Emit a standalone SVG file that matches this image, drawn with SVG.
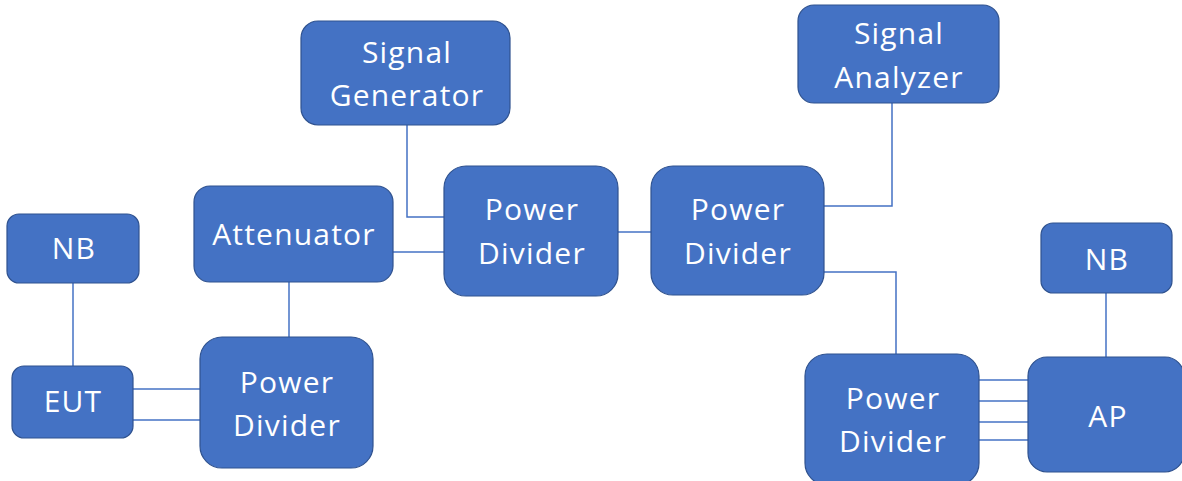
<svg xmlns="http://www.w3.org/2000/svg" width="1182" height="481" viewBox="0 0 1182 481">
<style>
.box{fill:#4472C4;stroke:#2F528F;stroke-width:1.2}
.lbl{fill:#FFFFFF;font-family:"Open Sans","Noto Sans","DejaVu Sans",sans-serif;font-size:30px;text-anchor:middle;letter-spacing:1.2px}
.wire{fill:none;stroke:#4472C4;stroke-width:1.5}
</style>
<rect width="1182" height="481" fill="#FFFFFF"/>
<g id="connectors">
<polyline class="wire" points="407,125 407,217 444,217"/>
<line class="wire" x1="393" y1="252" x2="444" y2="252"/>
<line class="wire" x1="618" y1="232" x2="651" y2="232"/>
<polyline class="wire" points="892,103 892,206 824,206"/>
<polyline class="wire" points="824,272 896,272 896,354"/>
<line class="wire" x1="73" y1="283" x2="73" y2="366"/>
<line class="wire" x1="289" y1="282" x2="289" y2="337"/>
<line class="wire" x1="133" y1="389" x2="200" y2="389"/>
<line class="wire" x1="133" y1="420" x2="200" y2="420"/>
<line class="wire" x1="1106" y1="293" x2="1106" y2="357"/>
<line class="wire" x1="979" y1="380" x2="1028" y2="380"/>
<line class="wire" x1="979" y1="401" x2="1028" y2="401"/>
<line class="wire" x1="979" y1="422" x2="1028" y2="422"/>
<line class="wire" x1="979" y1="440" x2="1028" y2="440"/>
</g>
<g id="signal-generator">
<rect class="box" x="301" y="21" width="209" height="104" rx="17"/>
<text class="lbl" x="407" y="63">Signal</text>
<text class="lbl" x="407" y="106">Generator</text>
</g>
<g id="signal-analyzer">
<rect class="box" x="798" y="5" width="201" height="98" rx="16"/>
<text class="lbl" x="899" y="44">Signal</text>
<text class="lbl" x="899" y="88">Analyzer</text>
</g>
<g id="attenuator">
<rect class="box" x="194" y="186" width="199" height="96" rx="16"/>
<text class="lbl" x="294" y="245">Attenuator</text>
</g>
<g id="power-divider-1">
<rect class="box" x="444" y="166" width="174" height="130" rx="22"/>
<text class="lbl" x="532" y="220">Power</text>
<text class="lbl" x="532" y="264">Divider</text>
</g>
<g id="power-divider-2">
<rect class="box" x="651" y="166" width="173" height="129" rx="22"/>
<text class="lbl" x="738" y="220">Power</text>
<text class="lbl" x="738" y="264">Divider</text>
</g>
<g id="nb-left">
<rect class="box" x="7" y="214" width="132" height="69" rx="12"/>
<text class="lbl" x="74" y="259">NB</text>
</g>
<g id="eut">
<rect class="box" x="12" y="366" width="121" height="72" rx="12"/>
<text class="lbl" x="73" y="412">EUT</text>
</g>
<g id="power-divider-3">
<rect class="box" x="200" y="337" width="173" height="131" rx="22"/>
<text class="lbl" x="287" y="393">Power</text>
<text class="lbl" x="287" y="436">Divider</text>
</g>
<g id="power-divider-4">
<rect class="box" x="805" y="354" width="174" height="131" rx="22"/>
<text class="lbl" x="893" y="409">Power</text>
<text class="lbl" x="893" y="452">Divider</text>
</g>
<g id="nb-right">
<rect class="box" x="1041" y="223" width="131" height="70" rx="12"/>
<text class="lbl" x="1107" y="270">NB</text>
</g>
<g id="ap">
<rect class="box" x="1028" y="357" width="156" height="115" rx="19"/>
<text class="lbl" x="1108" y="427">AP</text>
</g>
</svg>
